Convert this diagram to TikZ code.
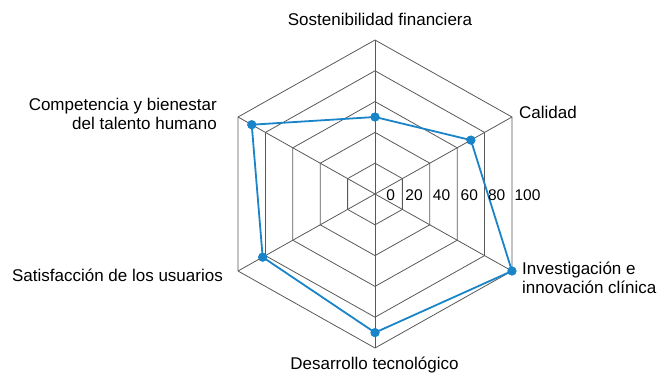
\documentclass[tikz,border=0pt]{standalone}
\usepackage{fontspec}
\setmainfont{Liberation Sans}
\begin{document}
\begin{tikzpicture}[x=1pt,y=1pt,
  grid/.style={draw=black!65,line width=0.8pt},
  series/.style={draw=serieblue,line width=1.8pt,line join=round},
  dot/.style={circle,fill=serieblue,inner sep=0pt,minimum size=9pt},
  axlabel/.style={font=\fontsize{17}{19.5}\selectfont,inner sep=0pt},
  ticklabel/.style={font=\fontsize{15.5}{17}\selectfont,inner sep=0pt}]
\definecolor{serieblue}{HTML}{1A84C8}
\useasboundingbox (0,0) rectangle (667,-375);
\begin{scope}[shift={(375,-194)},xscale=1.027]
  \foreach \r in {30.8,61.6,92.4,123.2,154}{
    \draw[grid] (90:\r) -- (30:\r) -- (-30:\r) -- (-90:\r) -- (-150:\r) -- (150:\r) -- cycle;
  }
  \coordinate (c) at (0,0);
  \foreach \a in {90,30,-30,-90,-150,150}{
    \draw[grid] (c) -- (\a:154);
  }
  \node[dot] (p1) at (90:77) {};
  \node[dot] (p2) at (30:107.8) {};
  \node[dot] (p3) at (-30:154) {};
  \node[dot] (p4) at (-90:138.6) {};
  \node[dot] (p5) at (-150:126.3) {};
  \node[dot] (p6) at (150:138.6) {};
\end{scope}
\draw[series] (p1.center) -- (p2.center) -- (p3.center) -- (p4.center) -- (p5.center) -- (p6.center) -- cycle;
\foreach \n in {p1,p2,p3,p4,p5,p6}{\fill[serieblue] (\n) circle (4.5);}
\node[ticklabel] (t0) at (390.7,-195) {0};
\node[ticklabel] (t20) at (414,-195) {20};
\node[ticklabel] (t40) at (441.5,-195) {40};
\node[ticklabel] (t60) at (469.3,-195) {60};
\node[ticklabel] (t80) at (496.7,-195) {80};
\node[ticklabel] (t100) at (527.5,-195) {100};
\node[axlabel] (l1) at (380,-19) {Sostenibilidad financiera};
\node[axlabel,anchor=west] (l2) at (519,-112) {Calidad};
\node[axlabel,anchor=west,align=left] (l3) at (522,-278) {Investigación e\\innovación clínica};
\node[axlabel] (l4) at (374.5,-365) {Desarrollo tecnológico};
\node[axlabel,anchor=east] (l5) at (223,-275) {Satisfacción de los usuarios};
\node[axlabel,anchor=east,align=right] (l6) at (217,-114) {Competencia y bienestar\\del talento humano};
\end{tikzpicture}
\end{document}
